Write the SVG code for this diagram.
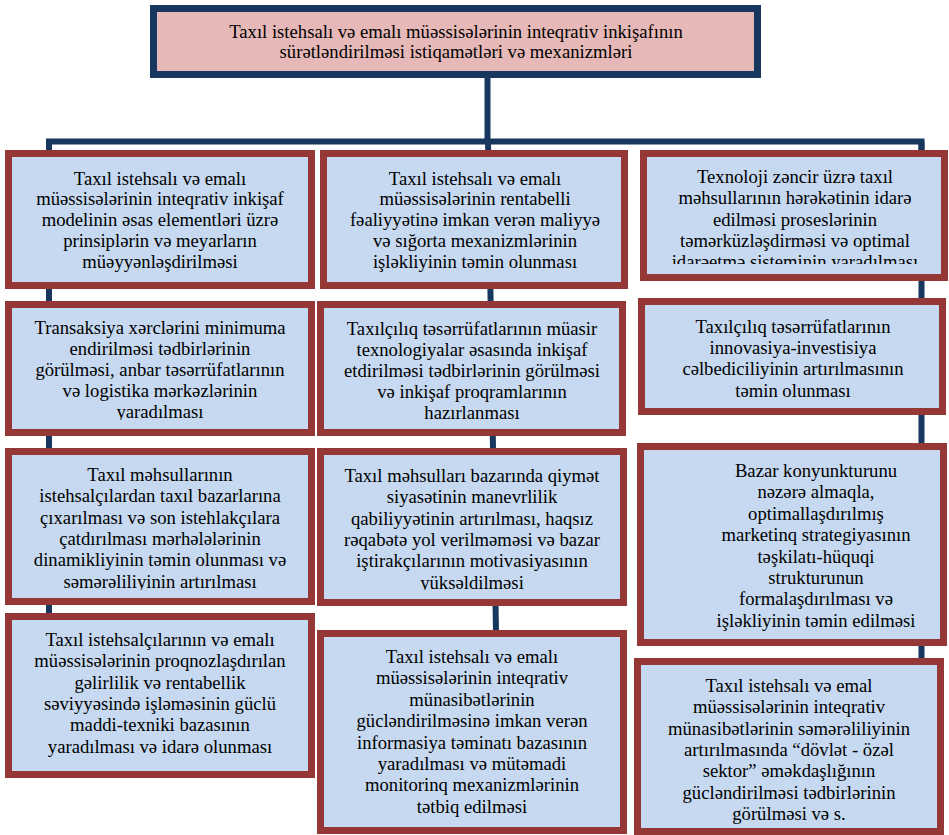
<svg xmlns="http://www.w3.org/2000/svg" width="949" height="835" viewBox="0 0 949 835">
<style>
  .box { fill: #C6D9F1; stroke: #953735; stroke-width: 7; }
  .top { fill: #E6B9B8; stroke: #17375E; stroke-width: 7; }
  .conn { fill: none; stroke: #17375E; stroke-width: 6; stroke-linejoin: miter; }
  text { font-family: "Liberation Serif", "Times New Roman", serif; font-size: 18.67px; fill: #000; text-anchor: middle; }
</style>
<defs>
  <clipPath id="clipR1"><rect x="647" y="157" width="295" height="107"/></clipPath>
  <clipPath id="clipL2"><rect x="12" y="308" width="296" height="112"/></clipPath>
  <clipPath id="clipL3"><rect x="12" y="455" width="296" height="135"/></clipPath>
  <clipPath id="clipM3"><rect x="324" y="455" width="296" height="135"/></clipPath>
</defs>
<rect width="949" height="835" fill="#FFFFFF"/>

<g id="connectors">
  <line class="conn" x1="487.5" y1="78" x2="487.5" y2="141.5"/>
  <polyline class="conn" points="49,160 49,141.5 921.5,141.5 921.5,160"/>
  <line class="conn" x1="49" y1="141.5" x2="49" y2="616"/>
  <line class="conn" x1="488" y1="141.5" x2="496" y2="633"/>
  <line class="conn" x1="921.5" y1="141.5" x2="921.5" y2="662"/>
</g>

<g id="node-top">
  <rect class="top" x="153.5" y="8.5" width="604" height="66"/>
  <text><tspan x="456" y="38.3">Taxıl istehsalı və emalı müəssisələrinin inteqrativ inkişafının</tspan><tspan x="456" y="58.3">sürətləndirilməsi istiqamətləri və mexanizmləri</tspan></text>
</g>

<g id="node-L1">
  <rect class="box" x="8.5" y="153.5" width="303" height="132"/>
  <text><tspan x="160" y="184.5">Taxıl istehsalı və emalı</tspan><tspan x="160" y="205.4">müəssisələrinin inteqrativ inkişaf</tspan><tspan x="160" y="226.3">modelinin əsas elementləri üzrə</tspan><tspan x="160" y="247.2">prinsiplərin və meyarların</tspan><tspan x="160" y="268.1">müəyyənləşdirilməsi</tspan></text>
</g>

<g id="node-L2">
  <rect class="box" x="8.5" y="304.5" width="303" height="128"/>
  <text clip-path="url(#clipL2)"><tspan x="160" y="334">Transaksiya xərclərini minimuma</tspan><tspan x="160" y="355">endirilməsi tədbirlərinin</tspan><tspan x="160" y="376">görülməsi, anbar təsərrüfatlarının</tspan><tspan x="160" y="397">və logistika mərkəzlərinin</tspan><tspan x="160" y="418">yaradılması</tspan></text>
</g>

<g id="node-L3">
  <rect class="box" x="8.5" y="451.5" width="303" height="150"/>
  <text clip-path="url(#clipL3)"><tspan x="160" y="481">Taxıl məhsullarının</tspan><tspan x="160" y="502.3">istehsalçılardan taxıl bazarlarına</tspan><tspan x="160" y="523.6">çıxarılması və son istehlakçılara</tspan><tspan x="160" y="544.9">çatdırılması mərhələlərinin</tspan><tspan x="160" y="566.2">dinamikliyinin təmin olunması və</tspan><tspan x="160" y="587.5">səmərəliliyinin artırılması</tspan></text>
</g>

<g id="node-L4">
  <rect class="box" x="8.5" y="616.5" width="303" height="158"/>
  <text><tspan x="160" y="646">Taxıl istehsalçılarının və emalı</tspan><tspan x="160" y="667.3">müəssisələrinin proqnozlaşdırılan</tspan><tspan x="160" y="688.6">gəlirlilik və rentabellik</tspan><tspan x="160" y="709.9">səviyyəsində işləməsinin güclü</tspan><tspan x="160" y="731.2">maddi-texniki bazasının</tspan><tspan x="160" y="752.5">yaradılması və idarə olunması</tspan></text>
</g>

<g id="node-M1">
  <rect class="box" x="323.5" y="153.5" width="301" height="132"/>
  <text><tspan x="475" y="184.5">Taxıl istehsalı və emalı</tspan><tspan x="475" y="205.4">müəssisələrinin rentabelli</tspan><tspan x="475" y="226.3">fəaliyyətinə imkan verən maliyyə</tspan><tspan x="475" y="247.2">və sığorta mexanizmlərinin</tspan><tspan x="475" y="268.1">işləkliyinin təmin olunması</tspan></text>
</g>

<g id="node-M2">
  <rect class="box" x="320.5" y="304.5" width="302" height="128"/>
  <text><tspan x="472" y="334.5">Taxılçılıq təsərrüfatlarının müasir</tspan><tspan x="472" y="355.5">texnologiyalar əsasında inkişaf</tspan><tspan x="472" y="376.5">etdirilməsi tədbirlərinin görülməsi</tspan><tspan x="472" y="397.5">və inkişaf proqramlarının</tspan><tspan x="472" y="418.5">hazırlanması</tspan></text>
</g>

<g id="node-M3">
  <rect class="box" x="320.5" y="451.5" width="303" height="151"/>
  <text clip-path="url(#clipM3)"><tspan x="472" y="482">Taxıl məhsulları bazarında qiymət</tspan><tspan x="472" y="503.3">siyasətinin manevrlilik</tspan><tspan x="472" y="524.6">qabiliyyətinin artırılması, haqsız</tspan><tspan x="472" y="545.9">rəqabətə yol verilməməsi və bazar</tspan><tspan x="472" y="567.2">iştirakçılarının motivasiyasının</tspan><tspan x="472" y="588.5">yüksəldilməsi</tspan></text>
</g>

<g id="node-M4">
  <rect class="box" x="320.5" y="633.5" width="303" height="197"/>
  <text><tspan x="472" y="663">Taxıl istehsalı və emalı</tspan><tspan x="472" y="684.4">müəssisələrinin inteqrativ</tspan><tspan x="472" y="705.8">münasibətlərinin</tspan><tspan x="472" y="727.2">gücləndirilməsinə imkan verən</tspan><tspan x="472" y="748.6">informasiya təminatı bazasının</tspan><tspan x="472" y="770">yaradılması və mütəmadi</tspan><tspan x="472" y="791.4">monitorinq mexanizmlərinin</tspan><tspan x="472" y="812.8">tətbiq edilməsi</tspan></text>
</g>

<g id="node-R1">
  <rect class="box" x="643.5" y="153.5" width="301" height="124"/>
  <text clip-path="url(#clipR1)"><tspan x="795" y="183">Texnoloji zəncir üzrə taxıl</tspan><tspan x="795" y="204.3">məhsullarının hərəkətinin idarə</tspan><tspan x="795" y="225.6">edilməsi proseslərinin</tspan><tspan x="795" y="246.9">təmərküzləşdirməsi və optimal</tspan><tspan x="795" y="268.2">idarəetmə sisteminin yaradılması</tspan></text>
</g>

<g id="node-R2">
  <rect class="box" x="641.5" y="301.5" width="301" height="110"/>
  <text><tspan x="793" y="333">Taxılçılıq təsərrüfatlarının</tspan><tspan x="793" y="354.2">innovasiya-investisiya</tspan><tspan x="793" y="375.4">cəlbediciliyinin artırılmasının</tspan><tspan x="793" y="396.6">təmin olunması</tspan></text>
</g>

<g id="node-R3">
  <rect class="box" x="640.5" y="446.5" width="303" height="196"/>
  <text><tspan x="816" y="477">Bazar konyunkturunu</tspan><tspan x="816" y="498.4">nəzərə almaqla,</tspan><tspan x="816" y="519.8">optimallaşdırılmış</tspan><tspan x="816" y="541.2">marketinq strategiyasının</tspan><tspan x="816" y="562.6">təşkilatı-hüquqi</tspan><tspan x="816" y="584">strukturunun</tspan><tspan x="816" y="605.4">formalaşdırılması və</tspan><tspan x="816" y="626.8">işləkliyinin təmin edilməsi</tspan></text>
</g>

<g id="node-R4">
  <rect class="box" x="637.5" y="661.5" width="303" height="170"/>
  <text><tspan x="789" y="692">Taxıl istehsalı və emal</tspan><tspan x="789" y="713.3">müəssisələrinin inteqrativ</tspan><tspan x="789" y="734.6">münasibətlərinin səmərəliliyinin</tspan><tspan x="789" y="755.9">artırılmasında “dövlət - özəl</tspan><tspan x="789" y="777.2">sektor” əməkdaşlığının</tspan><tspan x="789" y="798.5">gücləndirilməsi tədbirlərinin</tspan><tspan x="789" y="819.8">görülməsi və s.</tspan></text>
</g>
</svg>
